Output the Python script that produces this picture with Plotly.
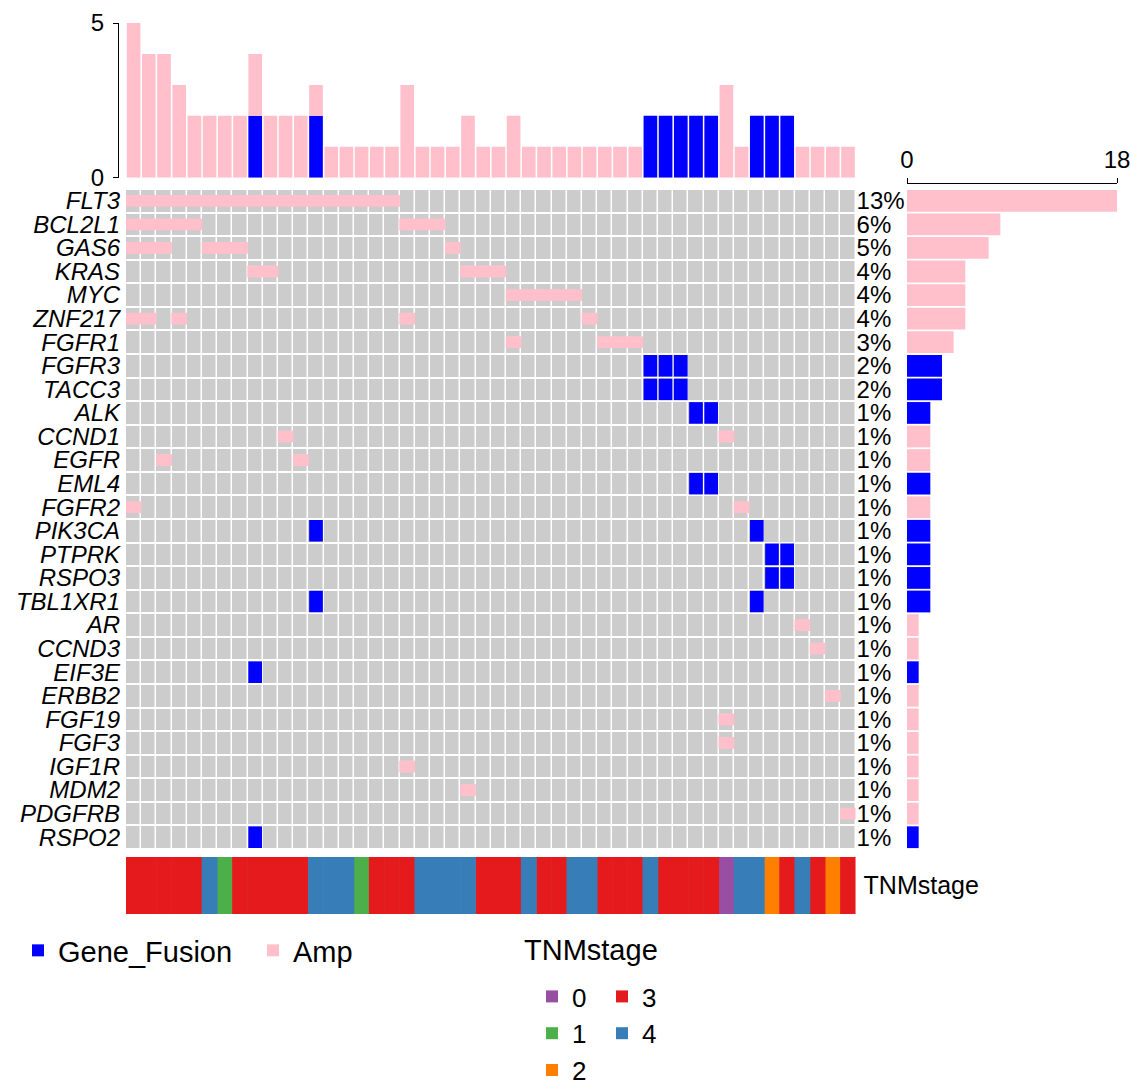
import plotly.graph_objects as go

W, H = 1131, 1084

genes = ["FLT3", "BCL2L1", "GAS6", "KRAS", "MYC", "ZNF217", "FGFR1", "FGFR3", "TACC3",
         "ALK", "CCND1", "EGFR", "EML4", "FGFR2", "PIK3CA", "PTPRK", "RSPO3", "TBL1XR1",
         "AR", "CCND3", "EIF3E", "ERBB2", "FGF19", "FGF3", "IGF1R", "MDM2", "PDGFRB", "RSPO2"]
pct_labels = ["13%", "6%", "5%", "4%", "4%", "4%", "3%", "2%", "2%", "1%", "1%", "1%", "1%", "1%",
              "1%", "1%", "1%", "1%", "1%", "1%", "1%", "1%", "1%", "1%", "1%", "1%", "1%", "1%"]

n_samples = 48
# sample columns (1-indexed) with amplification, per gene
amp_cols = {
    "FLT3": list(range(1, 19)),
    "BCL2L1": [1, 2, 3, 4, 5, 19, 20, 21],
    "GAS6": [1, 2, 3, 6, 7, 8, 22],
    "KRAS": [9, 10, 23, 24, 25],
    "MYC": [26, 27, 28, 29, 30],
    "ZNF217": [1, 2, 4, 19, 31],
    "FGFR1": [26, 32, 33, 34],
    "CCND1": [11, 40],
    "EGFR": [3, 12],
    "FGFR2": [1, 41],
    "AR": [45],
    "CCND3": [46],
    "ERBB2": [47],
    "FGF19": [40],
    "FGF3": [40],
    "IGF1R": [19],
    "MDM2": [23],
    "PDGFRB": [48],
}
# sample columns (1-indexed) with gene fusion, per gene
fusion_cols = {
    "FGFR3": [35, 36, 37],
    "TACC3": [35, 36, 37],
    "ALK": [38, 39],
    "EML4": [38, 39],
    "PIK3CA": [13, 42],
    "PTPRK": [43, 44],
    "RSPO3": [43, 44],
    "TBL1XR1": [13, 42],
    "EIF3E": [9],
    "RSPO2": [9],
}
tnm_stage = [3, 3, 3, 3, 3, 4, 1, 3, 3, 3, 3, 3, 4, 4, 4, 1, 3, 3, 3, 4, 4, 4, 4, 3, 3, 3, 4,
             3, 3, 4, 4, 3, 3, 3, 4, 3, 3, 3, 3, 0, 4, 4, 2, 3, 4, 3, 2, 3]
stage_levels = [0, 1, 2, 3, 4]
stage_colors = ["#984EA3", "#4DAF4A", "#FF7F00", "#E41A1C", "#377EB8"]

PINK = "#FFC0CB"
BLUE = "#0000FF"
GRAY = "#CCCCCC"
FONT = "Liberation Sans, Arial, sans-serif"

row_of = {g: i for i, g in enumerate(genes)}
nrow = len(genes)

# derived counts
amp_per_col = [0] * n_samples
fus_per_col = [0] * n_samples
for g, cols in amp_cols.items():
    for c in cols:
        amp_per_col[c - 1] += 1
for g, cols in fusion_cols.items():
    for c in cols:
        fus_per_col[c - 1] += 1
amp_per_gene = [len(amp_cols.get(g, [])) for g in genes]
fus_per_gene = [len(fusion_cols.get(g, [])) for g in genes]


def px_x(p):
    return p / W


def px_y(p):
    return 1 - p / H


gx0, gx1 = px_x(126), px_x(855.6)
gy0, gy1 = px_y(849), px_y(189)
col_px = (855.6 - 126) / n_samples
row_px = (849 - 189) / nrow

fig = go.Figure()

# background grey grid
fig.add_trace(go.Heatmap(
    z=[[0] * n_samples for _ in genes],
    x=[c + 0.5 for c in range(n_samples)],
    y=list(range(nrow)),
    colorscale=[[0, GRAY], [1, GRAY]], showscale=False,
    xgap=1.5, ygap=2, hoverinfo="skip", xaxis="x", yaxis="y"))

# fusion cells
fx, fy = [], []
for g, cols in fusion_cols.items():
    for c in cols:
        fx.append(c - 0.5)
        fy.append(row_of[g])
fh = 1 - 2 / row_px
fig.add_trace(go.Bar(
    x=fx, y=[fh] * len(fx), base=[r - fh / 2 for r in fy],
    width=1 - 1.5 / col_px, marker=dict(color=BLUE, line=dict(width=0)),
    name="Gene_Fusion", legend="legend", xaxis="x", yaxis="y", hoverinfo="skip"))

# amplification cells
ax_, ay_ = [], []
for g, cols in amp_cols.items():
    for c in cols:
        ax_.append(c - 0.5)
        ay_.append(row_of[g])
ah = 0.5
fig.add_trace(go.Bar(
    x=ax_, y=[ah] * len(ax_), base=[r - ah / 2 for r in ay_],
    width=1.04, marker=dict(color=PINK, line=dict(width=0)),
    name="Amp", legend="legend", xaxis="x", yaxis="y", hoverinfo="skip"))

# dummy trace for percentage axis on right
fig.add_trace(go.Scatter(x=[None], y=[None], xaxis="x", yaxis="y5",
                         showlegend=False, hoverinfo="skip"))

# top bar chart
centers = [c + 0.5 for c in range(n_samples)]
fig.add_trace(go.Bar(
    x=centers, y=fus_per_col, width=0.9, marker=dict(color=BLUE, line=dict(width=0)),
    showlegend=False, xaxis="x2", yaxis="y2", hoverinfo="skip"))
fig.add_trace(go.Bar(
    x=centers, y=amp_per_col, base=fus_per_col, width=0.9,
    marker=dict(color=PINK, line=dict(width=0)),
    showlegend=False, xaxis="x2", yaxis="y2", hoverinfo="skip"))

# right bar chart
rb = 1 - 1.8 / row_px
fig.add_trace(go.Bar(
    y=list(range(nrow)), x=fus_per_gene, orientation="h", width=rb,
    marker=dict(color=BLUE, line=dict(width=0)),
    showlegend=False, xaxis="x3", yaxis="y3", hoverinfo="skip"))
fig.add_trace(go.Bar(
    y=list(range(nrow)), x=amp_per_gene, base=fus_per_gene, orientation="h", width=rb,
    marker=dict(color=PINK, line=dict(width=0)),
    showlegend=False, xaxis="x3", yaxis="y3", hoverinfo="skip"))

# TNM stage annotation bar (also provides legend entries)
for lvl, colr in zip(stage_levels, stage_colors):
    cols = [i + 0.5 for i, s in enumerate(tnm_stage) if s == lvl]
    fig.add_trace(go.Bar(
        x=cols, y=[1] * len(cols), width=1.04,
        marker=dict(color=colr, line=dict(width=0)),
        name=str(lvl), legend="legend2" if lvl <= 2 else "legend3",
        xaxis="x4", yaxis="y4", hoverinfo="skip"))

hidden = dict(showgrid=False, zeroline=False, showticklabels=False, ticks="",
              showline=False, automargin=False)
LBL = 24

fig.update_layout(
    width=W, height=H, autosize=False,
    margin=dict(l=0, r=0, t=0, b=0, autoexpand=False),
    paper_bgcolor="white", plot_bgcolor="white",
    font=dict(family=FONT, color="black", size=LBL),
    barmode="overlay", hovermode=False,
    xaxis=dict(domain=[gx0, gx1], range=[0, n_samples], anchor="y", **hidden),
    yaxis=dict(domain=[gy0, gy1], range=[nrow - 0.5, -0.5], anchor="x",
               showgrid=False, zeroline=False, ticks="", automargin=False,
               tickmode="array", tickvals=list(range(nrow)),
               ticktext=["<i>" + g + "</i>" for g in genes],
               tickfont=dict(size=LBL), ticklabelstandoff=5),
    yaxis5=dict(overlaying="y", side="right", anchor="x", range=[nrow - 0.5, -0.5],
                showgrid=False, zeroline=False, ticks="", automargin=False,
                tickmode="array", tickvals=list(range(nrow)), ticktext=pct_labels,
                tickfont=dict(size=LBL), ticklabelstandoff=0),
    xaxis2=dict(domain=[gx0, gx1], range=[0, n_samples], anchor="y2", **hidden),
    yaxis2=dict(domain=[px_y(177.7), px_y(23)], range=[0, 5], anchor="free",
                position=px_x(118), showgrid=False, zeroline=False, automargin=False,
                showline=True, linecolor="black", linewidth=1.2,
                ticks="outside", ticklen=5, tickcolor="black", tickwidth=1.2,
                tickmode="array", tickvals=[0, 5], tickfont=dict(size=LBL),
                ticklabelstandoff=4),
    xaxis3=dict(domain=[px_x(907), px_x(1117)], range=[0, 18], anchor="free",
                position=px_y(182.7), side="top", showgrid=False, zeroline=False,
                automargin=False,
                showline=True, linecolor="black", linewidth=1.2,
                ticks="outside", ticklen=5, tickcolor="black", tickwidth=1.2,
                tickmode="array", tickvals=[0, 18], tickfont=dict(size=LBL)),
    yaxis3=dict(domain=[gy0, gy1], range=[nrow - 0.5, -0.5], anchor="x3", **hidden),
    xaxis4=dict(domain=[gx0, gx1], range=[0, n_samples], anchor="y4", **hidden),
    yaxis4=dict(domain=[px_y(914), px_y(857)], range=[0, 1], anchor="x4", side="right",
                showgrid=False, zeroline=False, ticks="", automargin=False,
                tickmode="array", tickvals=[0.5], ticktext=["TNMstage"],
                tickfont=dict(size=25), ticklabelstandoff=7),
    legend=dict(orientation="h", x=px_x(18), y=px_y(925), xanchor="left", yanchor="top",
                font=dict(size=29), bgcolor="rgba(0,0,0,0)", traceorder="normal",
                entrywidth=190, entrywidthmode="pixels"),
    legend2=dict(orientation="v", x=px_x(532), y=px_y(973), xanchor="left", yanchor="top",
                 font=dict(size=26), bgcolor="rgba(0,0,0,0)", traceorder="normal"),
    legend3=dict(orientation="v", x=px_x(602), y=px_y(973), xanchor="left", yanchor="top",
                 font=dict(size=26), bgcolor="rgba(0,0,0,0)", traceorder="normal"),
    annotations=[dict(text="TNMstage", xref="paper", yref="paper",
                      x=px_x(522), y=px_y(950), xanchor="left", yanchor="middle",
                      showarrow=False, font=dict(size=29))],
)

fig.write_html("out.html")
